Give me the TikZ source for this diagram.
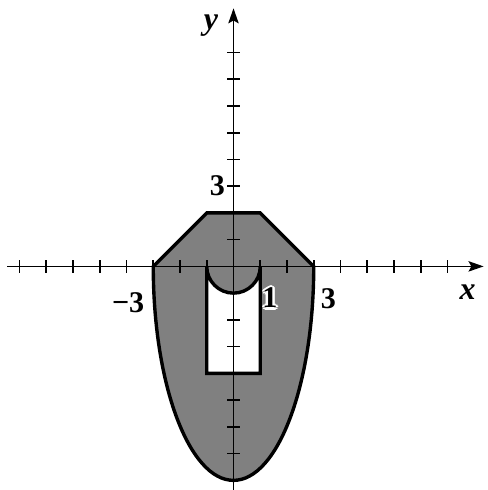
\documentclass[tikz,border=0pt]{standalone}
\usepackage{fontspec}
\setmainfont{Liberation Serif}
\usetikzlibrary{arrows.meta}
\begin{document}
\begin{tikzpicture}[x=0.5cm,y=0.5cm,
 axis/.style={line width=0.9pt,-{Stealth[length=8pt,width=5.5pt,inset=1.5pt]}},
 tickmark/.style={line width=0.9pt},
 outline/.style={line width=1.8pt,line join=miter},
 lab/.style={font=\fontsize{16}{18}\selectfont\bfseries,inner sep=0pt},
 axlab/.style={font=\fontsize{17}{19}\selectfont\bfseries\itshape,inner sep=0pt}]
\useasboundingbox (-8.73,-8.36) rectangle (9.51,9.96);
\fill[white] (-8.73,-8.36) rectangle (9.51,9.96);
% region
\filldraw[fill=black!50,outline] (-3,0) -- (-1,2) -- (1,2) -- (3,0)
  arc[start angle=0,end angle=-180,x radius=3,y radius=8] -- cycle;
% hole
\filldraw[fill=white,outline] (-1,0) arc[start angle=180,end angle=360,radius=1]
  -- (1,-4) -- (-1,-4) -- cycle;
% axes
\coordinate (xs) at (-8.46,0);
\coordinate (xe) at (9.35,0);
\coordinate (ys) at (0,-8.36);
\coordinate (ye) at (0,9.65);
\draw[axis] (xs) -- (xe);
\draw[axis] (ys) -- (ye);
\foreach \i in {-8,...,-1,1,2,...,8}
  \draw[tickmark] (\i,-0.24) -- (\i,0.24);
\foreach \i in {-7,...,-1,1,2,...,8}
  \draw[tickmark] (-0.24,\i) -- (0.24,\i);
% labels
\node[axlab] (xl) at (8.75,-0.95) {x};
\node[axlab] (yl) at (-0.84,9.0) {y};
\node[lab] (ythree) at (-0.6,3.0) {3};
\node[lab] (xmthree) at (-3.94,-1.35) {−3};
\node[lab] (xthree) at (3.55,-1.2) {3};
\foreach \a in {0,45,...,315}
  \node[lab,text=white,shift={(\a:1.3pt)}] at (1.36,-1.18) {1};
\node[lab] (one) at (1.36,-1.18) {1};
\end{tikzpicture}
\end{document}
